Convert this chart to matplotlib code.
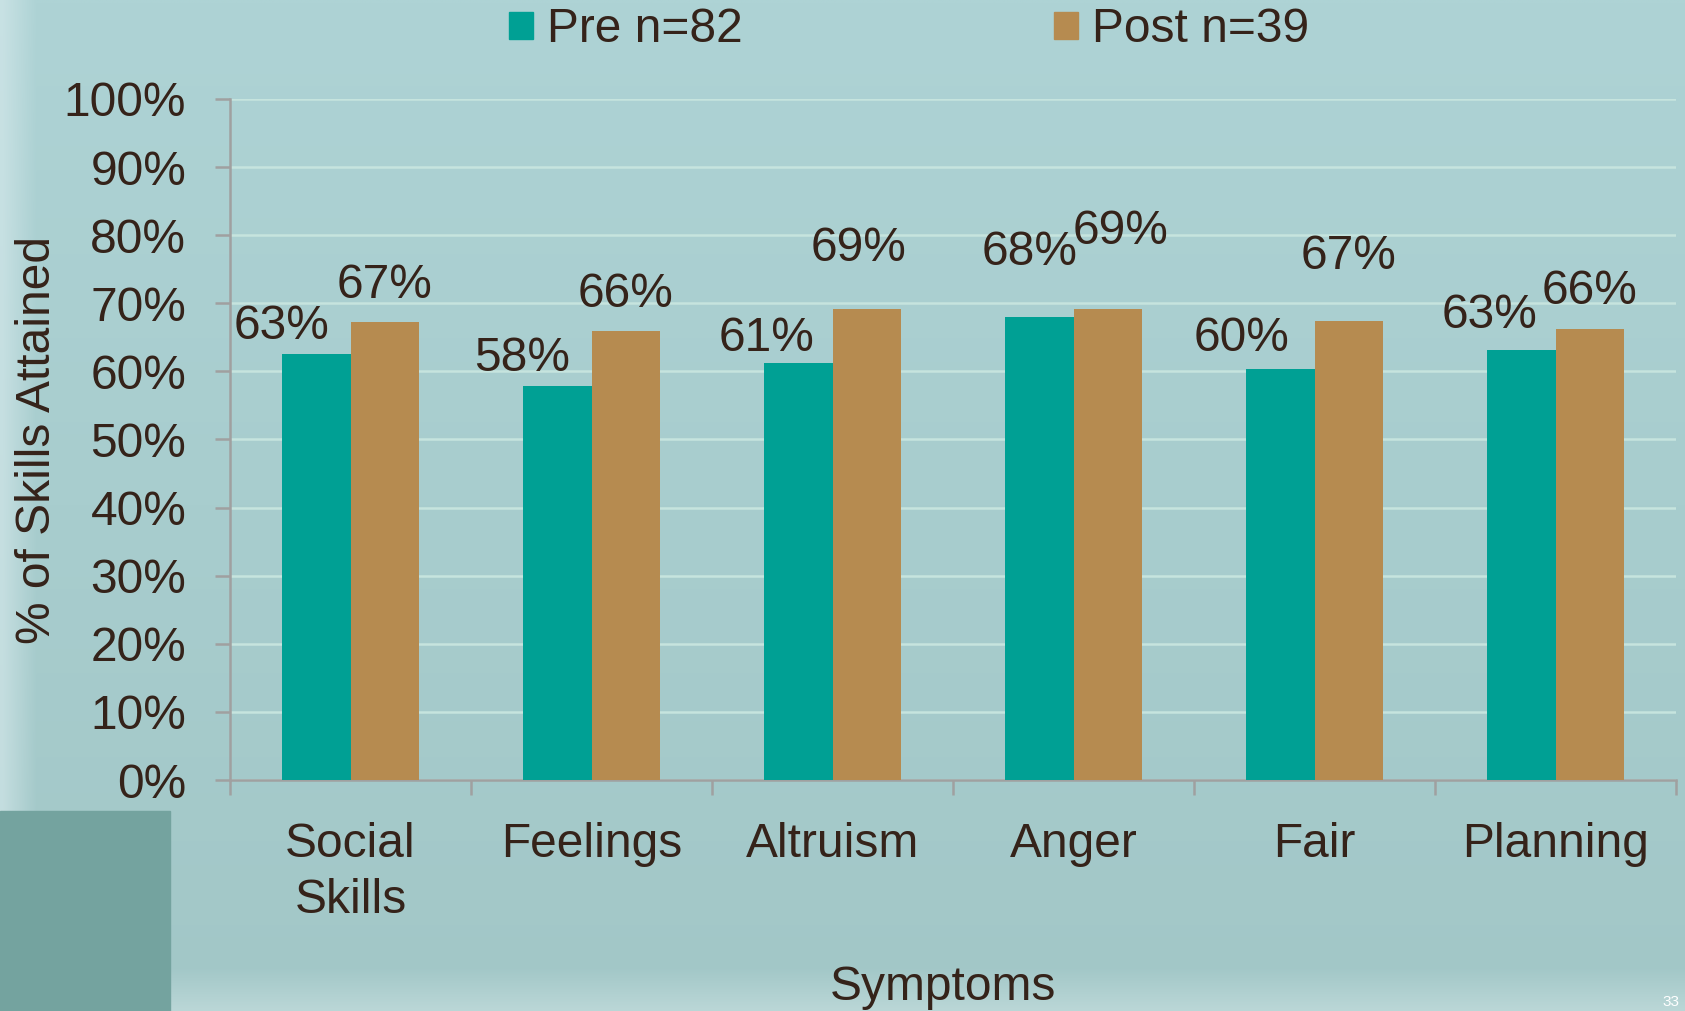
import numpy as np
import matplotlib.pyplot as plt
from matplotlib.patches import Rectangle, Patch

plt.rcParams['font.family'] = ['Liberation Sans', 'DejaVu Sans']

# Data
categories = ['Social\nSkills', 'Feelings', 'Altruism', 'Anger', 'Fair', 'Planning']
pre = [62.6, 57.9, 61.2, 68.0, 60.3, 63.1]
post = [67.2, 65.9, 69.2, 69.1, 67.4, 66.2]
series_names = ['Pre n=82', 'Post n=39']
yticks = list(range(0, 101, 10))

# label offsets (x in category units, y in % units) - mimic the manual placement
pre_dx = [-0.143, -0.147, -0.13, -0.04, -0.16, -0.13]
post_dx = [0.0, 0.0, -0.035, 0.054, 0.0, 0.0]
pre_dy = [4.0, 4.0, 3.7, 9.4, 4.6, 5.1]
post_dy = [5.4, 5.4, 8.9, 11.4, 9.4, 5.6]

TEXT = '#35231a'
TEAL = '#00a094'
TAN = '#b68b50'
FS = 34.5

fig = plt.figure(figsize=(16.85, 10.11), dpi=100)

# background
bg = fig.add_axes([0, 0, 1, 1], zorder=-10)
bg.set_axis_off()
h, w = 200, 300
yy = np.linspace(0, 1, h)[:, None]
xx = np.linspace(0, 1, w)[None, :]
top = np.array([174, 211, 213]) / 255
bot = np.array([162, 199, 199]) / 255
img = top[None, None, :] * (1 - yy[..., None]) + bot[None, None, :] * yy[..., None]
img = np.broadcast_to(img, (h, w, 3)).copy()
fade_b = np.clip((yy - 0.96) / 0.04, 0, 1)[..., None]
img = img * (1 - 0.5 * fade_b) + np.array([0.82, 0.90, 0.90]) * 0.5 * fade_b
fade_l = np.clip(1 - xx / 0.02, 0, 1)[..., None]
img = img * (1 - 0.6 * fade_l) + np.array([0.85, 0.92, 0.93]) * 0.6 * fade_l
bg.imshow(img, extent=[0, 1, 0, 1], aspect='auto', interpolation='bilinear')
bg.add_patch(Rectangle((0, 0), 170 / 1685, 200 / 1011, color='#74a39f', zorder=2))
bg.set_xlim(0, 1)
bg.set_ylim(0, 1)
bg.text(0.997, 0.002, '33', color='white', fontsize=11, ha='right', va='bottom', zorder=3)

ax = fig.add_axes([230 / 1685, 1 - 780 / 1011, 1446 / 1685, 681 / 1011])
ax.set_facecolor('none')

x = np.arange(len(categories))
bw = 0.285
ax.bar(x - bw / 2, pre, bw, color=TEAL, zorder=3)
ax.bar(x + bw / 2, post, bw, color=TAN, zorder=3)

for i in range(len(categories)):
    ax.text(x[i] - bw / 2 + pre_dx[i], pre[i] + pre_dy[i], f'{round(pre[i])}%',
            ha='center', va='center', fontsize=FS, color=TEXT)
    ax.text(x[i] + bw / 2 + post_dx[i], post[i] + post_dy[i], f'{round(post[i])}%',
            ha='center', va='center', fontsize=FS, color=TEXT)

ax.set_xlim(-0.5, len(categories) - 0.5)
ax.set_ylim(0, 100)
ax.set_yticks(yticks)
ax.set_yticklabels([f'{t}%' for t in yticks], fontsize=FS, color=TEXT)
ax.yaxis.grid(True, color='#c6e4de', linewidth=1.8, zorder=0)
ax.set_axisbelow(True)

ax.set_xticks(x)
ax.set_xticklabels(categories, fontsize=FS, color=TEXT, linespacing=1.33)
ax.set_xticks(np.arange(-0.5, len(categories)), minor=True)
ax.tick_params(axis='x', which='major', length=0, pad=30)
ax.tick_params(axis='x', which='minor', length=10.5, width=1.8, color='#a0a0a0')
ax.tick_params(axis='y', length=10.5, width=1.8, color='#a0a0a0', pad=21)

for s in ['top', 'right']:
    ax.spines[s].set_visible(False)
for s in ['left', 'bottom']:
    ax.spines[s].set_color('#a0a0a0')
    ax.spines[s].set_linewidth(1.8)

ax.set_ylabel('% of Skills Attained', fontsize=FS, color=TEXT, va='center')
ax.yaxis.set_label_coords((38 - 230) / 1446, 0.5)
ax.set_xlabel('Symptoms', fontsize=FS, color=TEXT, va='center')
ax.xaxis.set_label_coords((943 - 230) / 1446, (780 - 987) / 681)

handles = [Patch(color=TEAL), Patch(color=TAN)]
fig.legend(handles, series_names, loc='center', bbox_to_anchor=(909 / 1685, 1 - 30 / 1011),
           ncol=2, frameon=False, fontsize=34.5, labelcolor=TEXT,
           handlelength=0.5, handleheight=0.5, handletextpad=0.3, columnspacing=6.5,
           borderpad=0, borderaxespad=0)

fig.savefig('out.png', dpi=100)
